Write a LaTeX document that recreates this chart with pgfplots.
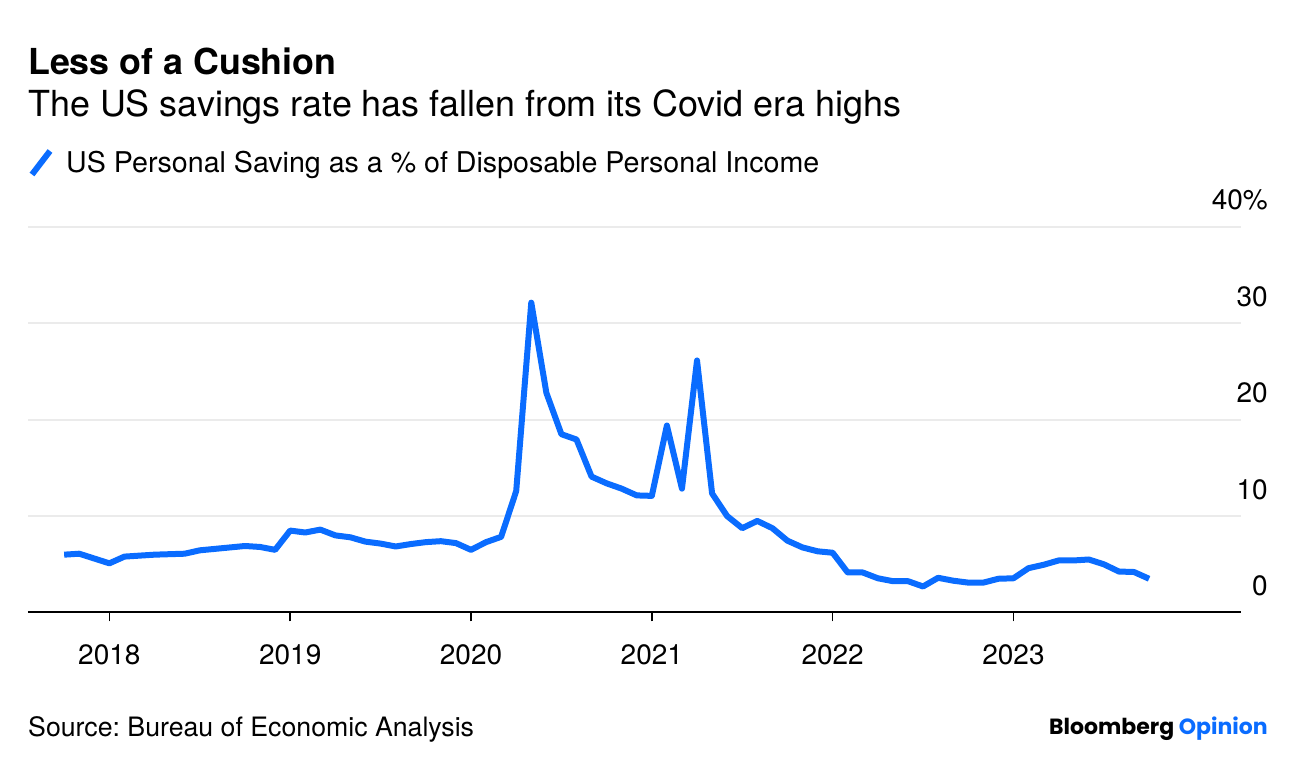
\documentclass[border=0pt]{standalone}
\usepackage{fontspec}
\setmainfont{TeX Gyre Heros}
\newfontfamily\logofont{Poppins}
\usepackage{pgfplots}
\pgfplotsset{compat=1.18}
\definecolor{bbblue}{HTML}{0A6CFF}
\definecolor{gridgray}{HTML}{EBEBEB}

% US personal saving rate, monthly, Sep 2017 - Sep 2023
% x = month index, 0 = Oct 1 2017 (Sep 2017 value)
\pgfplotstableread{
x y
0 6.0
1 6.1
2 5.6
3 5.1
4 5.8
5 5.9
6 6.0
7 6.05
8 6.1
9 6.45
10 6.6
11 6.75
12 6.9
13 6.8
14 6.5
15 8.5
16 8.3
17 8.6
18 8.0
19 7.8
20 7.35
21 7.15
22 6.85
23 7.1
24 7.3
25 7.4
26 7.2
27 6.5
28 7.3
29 7.85
30 12.6
31 32.15
32 22.8
33 18.5
34 17.95
35 14.1
36 13.4
37 12.85
38 12.15
39 12.1
40 19.4
41 12.85
42 26.15
43 12.35
44 10.0
45 8.75
46 9.5
47 8.75
48 7.45
49 6.75
50 6.35
51 6.2
52 4.15
53 4.15
54 3.55
55 3.25
56 3.25
57 2.7
58 3.6
59 3.3
60 3.1
61 3.1
62 3.5
63 3.55
64 4.6
65 4.95
66 5.4
67 5.4
68 5.5
69 5.0
70 4.25
71 4.2
72 3.5
}\saving

\begin{document}
\frenchspacing
\begin{tikzpicture}[x=1pt,y=1pt]
\path[use as bounding box] (0,0) rectangle (1296,770);

\node[anchor=base west, inner sep=0, font=\fontsize{35.8}{40}\selectfont\bfseries] at (28,695) {Less of a Cushion};
\node[anchor=base west, inner sep=0, font=\fontsize{35.9}{40}\selectfont] at (28,653) {The US savings rate has fallen from its Covid era highs};

% legend
\draw[bbblue, line width=6pt] (32,595.5) -- (50,619);
\node[anchor=base west, inner sep=0, font=\fontsize{28.6}{32}\selectfont] at (66,597) {US Personal Saving as a \% of Disposable Personal Income};

\begin{axis}[
    at={(28pt,157.5pt)}, anchor=south west,
    scale only axis,
    width=1213pt, height=385.5pt,
    xmin=-2.4, xmax=78.1,
    ymin=0, ymax=40,
    axis x line*=bottom, axis y line*=right,
    x axis line style={-, black, line width=2pt},
    y axis line style={draw=none},
    xtick={3,15,27,39,51,63},
    xticklabels={2018,2019,2020,2021,2022,2023},
    ytick={0,10,20,30,40},
    yticklabels={0,10,20,30,40\%},
    ymajorgrids,
    grid style={gridgray, line width=2pt},
    tick align=outside,
    major tick length=9pt,
    xtick style={black, line width=1.6pt},
    ytick style={draw=none},
    /pgf/number format/assume math mode=true,
    ticklabel style={font=\fontsize{28}{30}\selectfont, inner sep=0pt},
    xticklabel style={anchor=base, yshift=-43pt},
    yticklabel style={anchor=base east, xshift=18pt, yshift=17pt},
    clip=false,
]
\addplot[bbblue, line width=6pt, line join=round] table[x=x, y=y] {\saving};
\end{axis}

\node[anchor=base west, inner sep=0, font=\fontsize{26.7}{30}\selectfont] at (28,33) {Source: Bureau of Economic Analysis};
\node[anchor=base east, inner sep=0, font=\logofont\fontsize{22}{26}\selectfont\bfseries] at (1268,35) {Bloomberg \textcolor{bbblue}{Opinion}};
\end{tikzpicture}
\end{document}
